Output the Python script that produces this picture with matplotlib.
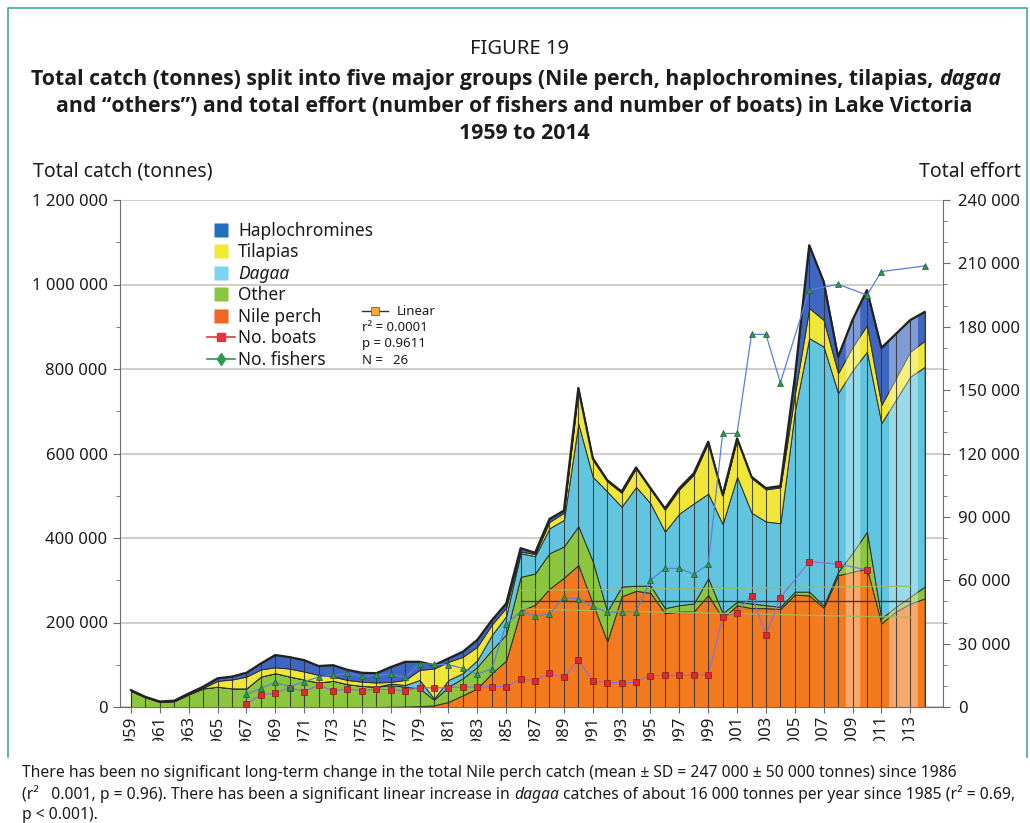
import matplotlib
matplotlib.use("Agg")
import matplotlib.pyplot as plt
from matplotlib import font_manager
from matplotlib.lines import Line2D
from matplotlib.patches import Rectangle
from matplotlib.ticker import FuncFormatter, MultipleLocator
import numpy as np

plt.rcParams['font.family'] = ['Noto Sans', 'DejaVu Sans']

# pick a humanist family that really has a bold face for the title
BOLD_FAMILY = 'DejaVu Sans'
for fam in ['Noto Sans', 'Open Sans', 'Lato', 'Roboto', 'Liberation Sans']:
    ws = [f.weight for f in font_manager.fontManager.ttflist if f.name == fam]
    if any((w if isinstance(w, int) else 700 if 'bold' in str(w).lower() else 400) >= 700
           for w in ws):
        BOLD_FAMILY = fam
        break

W, H = 1030, 823
TXT = '#1c1c1c'

# ---- data (thousand tonnes / thousands) ----
years = list(range(1959, 2015))

nile_perch = [0] * 18 + [0.5, 1, 2, 4, 12, 28, 44, 80, 110, 228, 242, 280, 306, 336,
                         245, 155, 262, 275, 270, 222, 226, 226, 265, 210, 241, 234, 234,
                         232, 266, 264, 235, 312, 320, 328, 198, 226, 245, 257]
other = [38, 23, 12, 14, 30, 44, 48, 44, 44, 72, 80, 72, 65, 58, 62, 54, 50, 48,
         51, 47, 42, 13, 36, 40, 51, 55, 62, 80, 74, 84, 74, 92, 100, 71, 23, 12,
         17, 12, 15, 19, 40, 12, 8, 11, 7, 5, 7, 9, 5, 8, 45, 87, 12, 11, 16, 28]
dagaa = [0] * 18 + [4, 4, 20, 3, 16, 12, 16, 35, 43, 56, 41, 59, 63, 243, 200, 284,
                    189, 234, 195, 181, 217, 237, 200, 211, 296, 215, 198, 198, 427,
                    600, 613, 423, 432, 426, 462, 490, 521, 520]
tilapias = [0, 0, 0, 0, 0, 1, 14, 21, 28, 17, 14, 19, 19, 18, 10, 10, 10, 10,
            4, 12, 24, 71, 43, 39, 32, 25, 20, 4, 5, 15, 17, 79, 40, 24, 33, 44,
            33, 52, 57, 68, 120, 67, 88, 82, 76, 85, 40, 71, 63, 47, 55, 63, 43,
            51, 59, 62]
haplochromines = [2, 1, 1, 1, 2, 3, 6, 7, 9, 14, 29, 27, 27, 21, 27, 24, 21, 22,
                  35, 43, 19, 8, 8, 12, 16, 10, 10, 8, 3, 7, 5, 5, 4, 3, 3, 2, 3, 3,
                  3, 3, 3, 2, 3, 3, 3, 3, 40, 149, 91, 39, 64, 83, 135, 105, 75, 68]
estimated_years = [2009, 2012, 2013]

boat_years = list(range(1967, 2005)) + [2006, 2008, 2010]
boats = [1.4, 5.7, 6.5, 9.2, 7.3, 10.4, 7.6, 8.4, 7.8, 8.4, 8.2, 7.6, 9.2, 9.0,
         9.2, 9.5, 9.4, 9.7, 9.7, 13.2, 12.5, 15.9, 14.0, 22.2, 12.3, 11.5, 11.5,
         11.7, 14.8, 15.0, 15.1, 15.0, 15.1, 42.4, 44.7, 52.7, 34.2, 51.8,
         68.8, 67.7, 64.9]
fisher_years = list(range(1967, 2005)) + [2006, 2008, 2010, 2011, 2014]
fishers = [6.0, 8.8, 11.7, 9.6, 12.0, 14.2, 15.0, 15.9, 14.5, 15.1, 15.5, 14.0,
           20.5, 20.2, 20.0, 18.3, 15.6, 18.0, 39.3, 45.1, 43.2, 44.0, 51.9, 51.1,
           47.8, 44.8, 45.1, 45.1, 60.0, 65.6, 65.6, 62.8, 67.5, 129.5, 129.5,
           176.4, 176.4, 153.5, 197.4, 200.1, 195.0, 206.1, 208.8]

# linear fit of Nile perch catch (1986-2013) and its band
fit_x = [1986, 2013]
fit_mid = [252, 252]
fit_hi = [276, 286]
fit_lo = [232, 212]

colors = ['#f47a20', '#8cc63f', '#62c5df', '#f1e73a', '#3f67c2']
legend_colors = {'Haplochromines': '#1f6fba', 'Tilapias': '#f2e936',
                 'Dagaa': '#7dd3f2', 'Other': '#8cc63f', 'Nile perch': '#f26522'}

k = 1000
layers = [np.array(v) * k for v in (nile_perch, other, dagaa, tilapias, haplochromines)]
total = np.sum(layers, axis=0)

fig = plt.figure(figsize=(W / 100, H / 100), dpi=100)
ax = fig.add_axes([120 / W, 1 - 707 / H, (943 - 120) / W, (707 - 200) / H])

ax.stackplot(years, layers, colors=colors, edgecolor='#2d2d2d', linewidth=0.7, zorder=2)

# paler segments for estimated years
spans = []
for y in estimated_years:
    if spans and abs(spans[-1][1] - (y - 0.5)) < 1e-9:
        spans[-1][1] = y + 0.5
    else:
        spans.append([y - 0.5, y + 0.5])
for a, b in spans:
    xs = np.concatenate([[a], [y for y in years if a < y < b], [b]])
    ax.fill_between(xs, 0, np.interp(xs, years, total), color='white', alpha=0.35,
                    lw=0, zorder=2.5)

ax.vlines(years, 0, total, colors='#303030', linewidth=0.8, alpha=0.85, zorder=3)
ax.plot(years, total, color='#222222', lw=1.6, zorder=3.2)

ax.plot(fit_x, np.array(fit_mid) * k, color='#3a3a3a', lw=1.0, zorder=3.5)
ax.plot(fit_x, np.array(fit_hi) * k, color='#9dbb5a', lw=1.0, alpha=0.9, zorder=3.5)
ax.plot(fit_x, np.array(fit_lo) * k, color='#9dbb5a', lw=1.0, alpha=0.9, zorder=3.5)

ax.set_xlim(1958.24, 2015.27)
ax.set_ylim(0, 1200000)
ax.set_axisbelow(True)
ax.yaxis.grid(True, color='#cdc4be', lw=1.2)
fmt = FuncFormatter(lambda v, p: f"{int(round(v)):,}".replace(',', ' '))
ax.yaxis.set_major_locator(MultipleLocator(200000))
ax.yaxis.set_minor_locator(MultipleLocator(100000))
ax.yaxis.set_major_formatter(fmt)
ax.tick_params(axis='y', which='major', length=5, color='#6d6d6d', labelsize=12,
               pad=4, labelcolor=TXT)
ax.tick_params(axis='y', which='minor', length=3, color='#6d6d6d')
ax.set_xticks(range(1959, 2014, 2))
ax.set_xticklabels([str(y) for y in range(1959, 2014, 2)], rotation=90)
ax.tick_params(axis='x', length=4, color='#6d6d6d', labelsize=12, pad=2, labelcolor=TXT)
for s in ('top', 'right'):
    ax.spines[s].set_visible(False)
ax.spines['left'].set_color('#6d6d6d')
ax.spines['bottom'].set_color('#6d6d6d')

ax2 = ax.twinx()
ax2.set_ylim(0, 240000)
ax2.plot(boat_years, np.array(boats) * k, color='#8d6fd6', lw=0.9, marker='s', ms=4.5,
         mfc='#e0282e', mec='#8b1a1a', mew=0.5, zorder=4)
ax2.plot(fisher_years, np.array(fishers) * k, color='#5a80d8', lw=0.9, marker='^', ms=4,
         mfc='#2e9a4c', mec='#1e5e30', mew=0.5, zorder=4)
ax2.yaxis.set_major_locator(MultipleLocator(30000))
ax2.yaxis.set_minor_locator(MultipleLocator(10000))
ax2.yaxis.set_major_formatter(fmt)
ax2.tick_params(axis='y', which='major', length=5, color='#6d6d6d', labelsize=12,
                pad=6, labelcolor=TXT)
ax2.tick_params(axis='y', which='minor', length=3, color='#6d6d6d')
for s in ('top', 'left', 'bottom'):
    ax2.spines[s].set_visible(False)
ax2.spines['right'].set_color('#6d6d6d')

# legend
handles = [Line2D([], [], ls='none', marker='s', ms=10, mfc=legend_colors[g], mec='none')
           for g in ['Haplochromines', 'Tilapias', 'Dagaa', 'Other', 'Nile perch']]
handles += [Line2D([], [], color='#e8343c', lw=1.2, marker='s', ms=6, mfc='#e8343c', mec='#e8343c'),
            Line2D([], [], color='#2a9a50', lw=1.2, marker='d', ms=6, mfc='#2a9a50', mec='#2a9a50')]
labels = ['Haplochromines', 'Tilapias', 'Dagaa', 'Other', 'Nile perch', 'No. boats', 'No. fishers']
leg = ax2.legend(handles, labels, loc='upper left', bbox_to_anchor=(207 / W, 1 - 222 / H),
                 bbox_transform=fig.transFigure, frameon=False, fontsize=12.5,
                 borderpad=0, borderaxespad=0, labelspacing=0.2, handlelength=1.6,
                 handletextpad=0.2)
for t in leg.get_texts():
    t.set_color(TXT)
leg.get_texts()[2].set_style('italic')


def fx(x):
    return x / W


def fy(y):
    return 1 - y / H


# "Linear" stats box
fig.add_artist(Line2D([fx(362), fx(388)], [fy(311), fy(311)], color='#333333', lw=1))
fig.add_artist(Line2D([fx(375)], [fy(311)], ls='none', marker='s', ms=6, mfc='#f5a93a',
                      mec='#8a5a10', mew=0.6))
fig.text(fx(397), fy(315.5), 'Linear', fontsize=9.5, color=TXT)
for yy, s in [(331, 'r² = 0.0001'), (347.5, 'p = 0.9611'), (364, 'N =   26')]:
    fig.text(fx(362), fy(yy), s, fontsize=9.5, color=TXT)

# axis titles
fig.text(fx(33), fy(177), 'Total catch (tonnes)', fontsize=14, color=TXT)
fig.text(fx(1021), fy(177), 'Total effort', fontsize=14, color=TXT, ha='right')

# cover the bottom of the rotated year labels like the original crop
fig.add_artist(Rectangle((0, 0), 1, fy(741), transform=fig.transFigure,
                         facecolor='white', edgecolor='none', zorder=10))

# frame
frame_c = '#45a7a1'
fig.add_artist(Line2D([fx(8), fx(8), fx(1027), fx(1027)],
                      [fy(757), fy(8), fy(8), fy(757)], color=frame_c, lw=1.2, zorder=11))

renderer = fig.canvas.get_renderer()


def seg_width(s, size, weight, style, family):
    kw = dict(fontsize=size, weight=weight, style=style, family=family)
    t1 = fig.text(0, 0, '|' + s + '|', **kw)
    t2 = fig.text(0, 0, '||', **kw)
    w = t1.get_window_extent(renderer).width - t2.get_window_extent(renderer).width
    t1.remove()
    t2.remove()
    return w


def rich_line(x, y, parts, size, weight='normal', ha='left', family=None):
    family = family or ['Noto Sans', 'DejaVu Sans']
    ws = [seg_width(s, size, weight, st, family) for s, st in parts]
    x0 = x - sum(ws) / 2 if ha == 'center' else x
    for (s, st), w in zip(parts, ws):
        lead = len(s) - len(s.lstrip())
        xd = x0 + (seg_width(' ' * lead, size, weight, st, family) if lead else 0)
        fig.text(fx(xd), fy(y), s.strip(), fontsize=size, weight=weight, style=st,
                 family=family, va='baseline', ha='left', color=TXT, zorder=12)
        x0 += w


fig.text(fx(520), fy(54), 'FIGURE 19', fontsize=14.5, color=TXT, ha='center', va='baseline')
bf = [BOLD_FAMILY, 'DejaVu Sans']
tsize = 15.3
rich_line(516, 85, [('Total catch (tonnes) split into five major groups (Nile perch, '
                     'haplochromines, tilapias, ', 'normal'), ('dagaa', 'italic')],
          tsize, 'bold', 'center', bf)
rich_line(514, 112, [('and “others”) and total effort (number of fishers and number of '
                      'boats) in Lake Victoria', 'normal')], tsize, 'bold', 'center', bf)
rich_line(524, 139, [('1959 to 2014', 'normal')], tsize, 'bold', 'center', bf)

cap = 11.3
rich_line(22, 777, [('There has been no significant long-term change in the total Nile '
                     'perch catch (mean ± SD = 247 000 ± 50 000 tonnes) since 1986',
                     'normal')], cap)
rich_line(22, 799, [('(r²   0.001, p = 0.96). There has been a significant linear '
                     'increase in ', 'normal'), ('dagaa', 'italic'),
                    (' catches of about 16 000 tonnes per year since 1985 (r² = 0.69,',
                     'normal')], cap)
rich_line(22, 819, [('p < 0.001).', 'normal')], cap)

fig.savefig('out.png', dpi=100)
